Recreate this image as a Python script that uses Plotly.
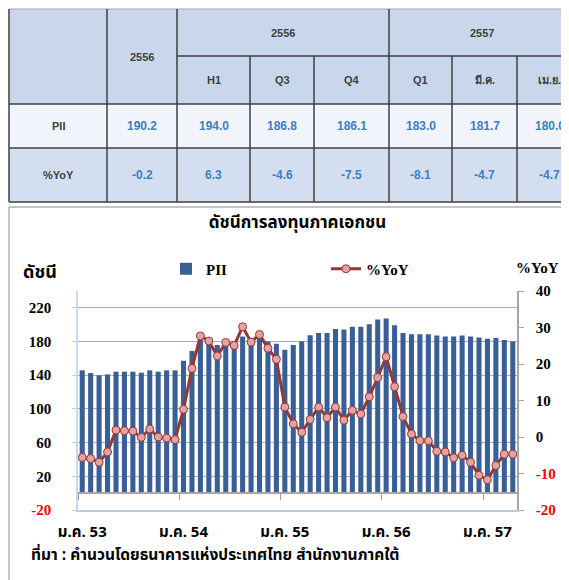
import plotly.graph_objects as go

# ---------------- data ----------------
months = list(range(52))  # Jan 2010 (ม.ค. 53) .. Apr 2014 (เม.ย. 57)
x_tick_pos = [0, 12, 24, 36, 48]
x_tick_text = ["ม.ค. 53", "ม.ค. 54", "ม.ค. 55", "ม.ค. 56", "ม.ค. 57"]

pii = [145.8, 142.6, 139.9, 141.0, 144.2, 144.2, 144.2, 143.0, 145.8, 144.2, 145.8, 145.8,
       157.3, 168.7, 182.0, 180.0, 176.0, 178.0, 180.2, 186.1, 183.7, 184.1, 180.0, 177.5,
       170.3, 175.8, 180.2, 187.5, 190.0, 190.0, 194.8, 194.4, 197.6, 197.6, 200.4, 206.3,
       207.5, 199.2, 190.0, 188.8, 188.8, 188.8, 187.3, 186.1, 186.1, 187.3, 186.1, 184.9,
       183.2, 184.1, 181.7, 180.0]

yoy = [-5.6, -5.9, -6.9, -4.1, 1.9, 1.7, 1.6, -0.1, 2.2, 0.0, -0.3, -0.7,
       7.6, 18.8, 27.7, 26.3, 22.2, 25.9, 25.1, 30.2, 26.0, 28.1, 24.3, 21.3,
       8.2, 3.6, 1.3, 4.8, 8.2, 5.3, 8.2, 4.6, 7.3, 6.3, 11.0, 16.3,
       22.0, 13.8, 5.6, 0.8, -1.0, -1.0, -3.9, -4.1, -5.7, -5.0, -6.9, -10.5,
       -11.7, -7.8, -4.7, -4.7]

y_left_ticks = [-20, 20, 60, 100, 140, 180, 220]
y_right_ticks = [-20, -10, 0, 10, 20, 30, 40]

# table above the chart
tbl_year_col = "2556"
tbl_groups = ["2556", "2557"]
tbl_periods = ["2556", "H1", "Q3", "Q4", "Q1", "มี.ค.", "เม.ย."]
tbl_row_names = ["PII", "%YoY"]
tbl_pii = ["190.2", "194.0", "186.8", "186.1", "183.0", "181.7", "180.0"]
tbl_yoy = ["-0.2", "6.3", "-4.6", "-7.5", "-8.1", "-4.7", "-4.7"]

# ---------------- layout geometry (reference pixels) ----------------
OFF = 8                      # page body margin
FW, FH = 569 - OFF, 580 - OFF
L, R, T, B = 78, 517, 291, 510   # plot area in window pixels
PW, PH = R - L, B - T


def X(px):
    return (px - L) / PW


def Y(py):
    return (B - py) / PH


THAI = "Noto Sans Thai, Noto Sans Thai UI, Noto Sans, DejaVu Sans, sans-serif"
SERIF = "Liberation Serif, Times New Roman, serif"
ARIAL = "Liberation Sans, Arial, sans-serif"


def red_if_neg(v):
    return f"<span style='color:#ff0000'>{v}</span>" if v < 0 else str(v)


fig = go.Figure()
fig.add_trace(go.Bar(
    x=months, y=pii, name="PII", yaxis="y", xaxis="x",
    marker=dict(color="#3a5f97", line=dict(width=0)), width=0.6,
))
fig.add_trace(go.Scatter(
    x=months, y=yoy, name="%YoY", yaxis="y2", xaxis="x",
    mode="lines+markers",
    line=dict(color="#953735", width=3),
    marker=dict(size=8, color="#e3a3a2", line=dict(color="#953735", width=1)),
))
# carrier trace for the category tick axis drawn at y = 0
fig.add_trace(go.Scatter(x=[None], y=[None], xaxis="x2", yaxis="y",
                         showlegend=False, hoverinfo="skip"))

fig.update_layout(
    width=FW, height=FH,
    margin=dict(l=L - OFF, r=FW - (R - OFF), t=T - OFF, b=FH - (B - OFF)),
    paper_bgcolor="white", plot_bgcolor="white",
    bargap=0.4,
    title=dict(text="ดัชนีการลงทุนภาคเอกชน", x=0.5, xref="paper",
               y=1 - (222 - OFF) / FH, yref="container", yanchor="middle", xanchor="center",
               font=dict(family=THAI, size=17, color="black", weight="bold")),
    showlegend=True,
    legend=dict(orientation="h", x=X(166), y=Y(269), xanchor="left", yanchor="middle",
                entrywidth=115, entrywidthmode="pixels",
                font=dict(family=SERIF, size=15, color="black", weight="bold"),
                bgcolor="rgba(0,0,0,0)", traceorder="normal"),
    xaxis=dict(range=[-0.5, 51.5], tickmode="array", tickvals=x_tick_pos, ticktext=x_tick_text,
               ticks="outside", ticklen=7, tickcolor="rgba(0,0,0,0)",
               showline=True, linecolor="#b9cde5", linewidth=1.5,
               showgrid=False, zeroline=False,
               tickfont=dict(family=THAI, size=15, color="black", weight="bold")),
    xaxis2=dict(range=[-0.5, 51.5], overlaying="x", anchor="free", position=20 / 260, side="bottom",
                tickmode="array", tickvals=[-0.5, 11.5, 23.5, 35.5, 47.5],
                ticks="outside", ticklen=6, tickcolor="#999999", tickwidth=1,
                showticklabels=False, showline=True, linecolor="#a6a6a6", linewidth=1.5,
                showgrid=False, zeroline=False),
    yaxis=dict(range=[-20, 240], tickmode="array", tickvals=y_left_ticks,
               ticktext=[red_if_neg(v) for v in y_left_ticks],
               showgrid=True, gridcolor="#95b3d7", gridwidth=1,
               zeroline=False, showline=True, linecolor="#c6d9f1", linewidth=1.5,
               ticks="outside", ticklen=4, tickcolor="#c6d0dc", ticklabelstandoff=18,
               tickfont=dict(family=SERIF, size=15, color="black", weight="bold")),
    yaxis2=dict(range=[-20, 40], tickmode="array", tickvals=y_right_ticks,
                ticktext=[red_if_neg(v) for v in y_right_ticks],
                overlaying="y", side="right", showgrid=False, zeroline=False,
                showline=True, linecolor="#a6a6a6", linewidth=1.5,
                ticks="outside", ticklen=5, tickcolor="#a6a6a6", ticklabelstandoff=9,
                tickfont=dict(family=SERIF, size=15, color="black", weight="bold")),
)

shapes = []
annotations = []

# chart frame
shapes.append(dict(type="line", xref="paper", yref="paper", x0=X(9), x1=X(580), y0=Y(207), y1=Y(207),
                   line=dict(color="#8c8c8c", width=1)))
shapes.append(dict(type="line", xref="paper", yref="paper", x0=X(9), x1=X(9), y0=Y(207), y1=Y(590),
                   line=dict(color="#8c8c8c", width=1)))

# axis titles and source
annotations.append(dict(text="ดัชนี", xref="paper", yref="paper", x=X(40), y=Y(272),
                        showarrow=False, xanchor="center", yanchor="middle",
                        font=dict(family=THAI, size=18, color="black", weight="bold")))
annotations.append(dict(text="%YoY", xref="paper", yref="paper", x=X(537), y=Y(268),
                        showarrow=False, xanchor="center", yanchor="middle",
                        font=dict(family=SERIF, size=15, color="black", weight="bold")))
annotations.append(dict(text="ที่มา : คำนวนโดยธนาคารแห่งประเทศไทย สำนักงานภาคใต้",
                        xref="paper", yref="paper", x=X(29), y=Y(555),
                        showarrow=False, xanchor="left", yanchor="middle",
                        font=dict(family=THAI, size=15.5, color="black", weight="bold")))

# ---------------- table ----------------
col_edges = [9, 107, 177, 250, 314, 389, 452, 517, 582]
row_edges = [9, 56, 104, 148, 202]
TL = "#3f3f3f"


def rect(x0, x1, y0, y1, color):
    shapes.append(dict(type="rect", xref="paper", yref="paper", layer="below",
                       x0=X(x0), x1=X(x1), y0=Y(y0), y1=Y(y1),
                       fillcolor=color, line=dict(width=0)))


def hline(x0, x1, y, color=TL, w=1.5):
    shapes.append(dict(type="line", xref="paper", yref="paper",
                       x0=X(x0), x1=X(x1), y0=Y(y), y1=Y(y), line=dict(color=color, width=w)))


def vline(x, y0, y1, color=TL, w=1.5):
    shapes.append(dict(type="line", xref="paper", yref="paper",
                       x0=X(x), x1=X(x), y0=Y(y0), y1=Y(y1), line=dict(color=color, width=w)))


rect(col_edges[0], col_edges[-1], row_edges[0], row_edges[2], "#c8d7ec")
rect(col_edges[0], col_edges[-1], row_edges[2], row_edges[3], "#f1f5fb")
rect(col_edges[0], col_edges[-1], row_edges[3], row_edges[4], "#d3dff0")

hline(col_edges[0], col_edges[-1], row_edges[0], color="#a0a8b4", w=1)
hline(col_edges[2], col_edges[-1], row_edges[1])
for ry in row_edges[2:]:
    hline(col_edges[0], col_edges[-1], ry)
for i, cx in enumerate(col_edges[:-1]):
    if i in (0, 1, 2, 5):
        vline(cx, row_edges[0], row_edges[-1])
    else:
        vline(cx, row_edges[1], row_edges[-1])


def cell_text(txt, cx, cy, color="#404040", size=11):
    annotations.append(dict(text=txt, xref="paper", yref="paper", x=X(cx), y=Y(cy),
                            showarrow=False, xanchor="center", yanchor="middle",
                            font=dict(family=ARIAL, size=size, color=color, weight="bold")))


centers = [(col_edges[i] + col_edges[i + 1]) / 2 for i in range(len(col_edges) - 1)]
# header
cell_text(tbl_year_col, centers[1], (row_edges[0] + row_edges[2]) / 2)
cell_text(tbl_groups[0], (col_edges[2] + col_edges[5]) / 2, (row_edges[0] + row_edges[1]) / 2)
cell_text(tbl_groups[1], (col_edges[5] + 575) / 2, (row_edges[0] + row_edges[1]) / 2)
for j, p in enumerate(tbl_periods[1:], start=2):
    cell_text(p, centers[j], (row_edges[1] + row_edges[2]) / 2)
# body
cell_text(tbl_row_names[0], centers[0], (row_edges[2] + row_edges[3]) / 2)
cell_text(tbl_row_names[1], centers[0], (row_edges[3] + row_edges[4]) / 2)
for j in range(len(tbl_pii)):
    cell_text(tbl_pii[j], centers[j + 1], (row_edges[2] + row_edges[3]) / 2, color="#3c7fc0", size=12)
    cell_text(tbl_yoy[j], centers[j + 1], (row_edges[3] + row_edges[4]) / 2, color="#3c7fc0", size=12)

fig.update_layout(shapes=shapes, annotations=annotations)

fig.write_html("out.html")
